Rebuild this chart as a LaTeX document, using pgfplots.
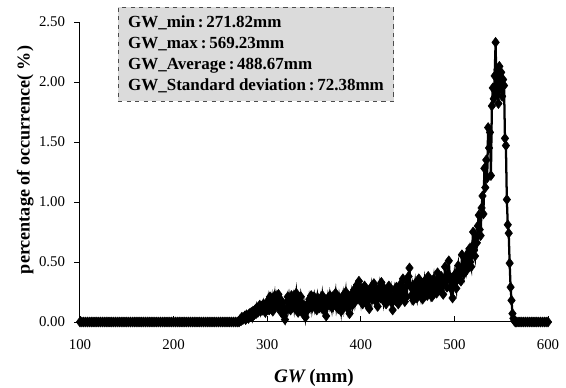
\documentclass[border=0pt]{standalone}
\usepackage{fontspec}
\setmainfont{Liberation Serif}
\usepackage{pgfplots}
\usepackage{pgfplotstable}
\pgfplotsset{compat=1.18}
\pgfplotstableread{
x y
100 0
102 0
104 0
106 0
108 0
110 0
112 0
114 0
116 0
118 0
120 0
122 0
124 0
126 0
128 0
130 0
132 0
134 0
136 0
138 0
140 0
142 0
144 0
146 0
148 0
150 0
152 0
154 0
156 0
158 0
160 0
162 0
164 0
166 0
168 0
170 0
172 0
174 0
176 0
178 0
180 0
182 0
184 0
186 0
188 0
190 0
192 0
194 0
196 0
198 0
200 0
202 0
204 0
206 0
208 0
210 0
212 0
214 0
216 0
218 0
220 0
222 0
224 0
226 0
228 0
230 0
232 0
234 0
236 0
238 0
240 0
242 0
244 0
246 0
248 0
250 0
252 0
254 0
256 0
258 0
260 0
262 0
264 0
266 0
268 0
270 0.00
271 0.02
272 0.01
273 0.04
274 0.02
275 0.03
276 0.05
277 0.02
278 0.06
279 0.04
280 0.03
281 0.07
282 0.05
283 0.08
284 0.04
285 0.09
286 0.06
287 0.10
288 0.07
289 0.12
290 0.08
291 0.11
292 0.14
293 0.09
294 0.13
295 0.10
296 0.15
297 0.11
298 0.08
299 0.14
300 0.12
301 0.18
302 0.10
303 0.21
304 0.14
305 0.19
306 0.09
307 0.17
308 0.22
309 0.13
310 0.20
311 0.15
312 0.23
313 0.11
314 0.19
315 0.08
316 0.16
317 0.12
318 0.05
319 0.02
320 0.09
321 0.17
322 0.21
323 0.13
324 0.19
325 0.10
326 0.22
327 0.15
328 0.20
329 0.12
330 0.18
331 0.24
332 0.14
333 0.08
334 0.19
335 0.13
336 0.21
337 0.16
338 0.10
339 0.06
340 0.12
341 0.04
342 0.09
343 0.15
344 0.11
345 0.19
346 0.14
347 0.22
348 0.12
349 0.17
350 0.21
351 0.13
352 0.18
353 0.10
354 0.20
355 0.15
356 0.12
357 0.19
358 0.14
359 0.22
360 0.16
361 0.09
362 0.18
363 0.05
364 0.13
365 0.20
366 0.15
367 0.22
368 0.17
369 0.12
370 0.21
371 0.14
372 0.19
373 0.24
374 0.13
375 0.18
376 0.11
377 0.20
378 0.15
379 0.09
380 0.17
381 0.22
382 0.13
383 0.19
384 0.25
385 0.16
386 0.11
387 0.21
388 0.07
389 0.18
390 0.23
391 0.14
392 0.20
393 0.27
394 0.17
395 0.22
396 0.31
397 0.19
398 0.34
399 0.24
400 0.18
401 0.28
402 0.15
403 0.23
404 0.30
405 0.20
406 0.26
407 0.14
408 0.21
409 0.11
410 0.24
411 0.29
412 0.19
413 0.25
414 0.32
415 0.22
416 0.17
417 0.27
418 0.13
419 0.23
420 0.29
421 0.20
422 0.33
423 0.24
424 0.18
425 0.28
426 0.21
427 0.15
428 0.26
429 0.19
430 0.30
431 0.23
432 0.27
433 0.16
434 0.10
435 0.21
436 0.26
437 0.18
438 0.29
439 0.22
440 0.15
441 0.25
442 0.31
443 0.20
444 0.27
445 0.36
446 0.24
447 0.17
448 0.29
449 0.21
450 0.33
451 0.38
452 0.45
453 0.30
454 0.22
455 0.28
456 0.18
457 0.26
458 0.32
459 0.24
460 0.20
461 0.29
462 0.36
463 0.27
464 0.22
465 0.31
466 0.19
467 0.28
468 0.34
469 0.25
470 0.30
471 0.22
472 0.38
473 0.29
474 0.24
475 0.33
476 0.21
477 0.30
478 0.36
479 0.27
480 0.32
481 0.24
482 0.41
483 0.30
484 0.35
485 0.26
486 0.38
487 0.31
488 0.23
489 0.34
490 0.46
491 0.35
492 0.29
493 0.40
494 0.51
495 0.38
496 0.28
497 0.33
498 0.20
499 0.31
500 0.39
501 0.33
502 0.28
503 0.42
504 0.47
505 0.36
506 0.44
507 0.34
508 0.56
509 0.45
510 0.40
511 0.50
512 0.54
513 0.43
514 0.47
515 0.58
516 0.61
517 0.50
518 0.46
519 0.63
520 0.75
521 0.60
522 0.55
523 0.70
524 0.66
525 0.80
526 0.89
527 0.77
528 0.72
529 0.95
530 1.05
531 0.90
532 1.28
533 1.12
534 1.35
535 1.20
536 1.62
537 1.45
538 1.58
539 1.22
540 1.80
541 1.95
542 1.86
543 2.05
544 2.33
545 1.90
546 2.10
547 1.82
548 2.13
549 1.95
550 2.08
551 1.88
552 2.02
553 1.97
554 1.53
555 1.47
556 1.02
557 0.81
558 0.74
559 0.49
560 0.29
561 0.18
562 0.07
563 0.03
564 0.01
565 0.00
566 0
568 0
570 0
572 0
574 0
576 0
578 0
580 0
582 0
584 0
586 0
588 0
590 0
592 0
594 0
596 0
598 0
600 0
}\gwdata
\begin{document}
\begin{tikzpicture}
\begin{axis}[
  scale only axis,
  width=330.7pt, height=212pt,
  xmin=100, xmax=600, ymin=0, ymax=2.5,
  axis lines*=left,
  axis line style={black, line width=0.7pt},
  xtick={100,200,300,400,500,600},
  ytick={0,0.5,1,1.5,2,2.5},
  xtick align=inside, ytick align=outside,
  major tick length=4pt,
  tick style={black, line width=0.6pt},
  /pgf/number format/assume math mode=true,
  ticklabel style={font=\fontsize{10.5}{12}\selectfont},
  y tick label style={/pgf/number format/.cd, fixed, fixed zerofill, precision=2, /tikz/.cd, xshift=-3pt},
  x tick label style={yshift=-9pt},
  xlabel={\textbf{\textit{GW}\,(mm)}},
  ylabel={\textbf{percentage of occurrence( \%)}},
  xlabel style={font=\fontsize{13.5}{15}\selectfont, yshift=-7pt},
  ylabel style={font=\fontsize{12.8}{15}\selectfont, at={(ticklabel cs:0.54)}, yshift=-3pt},
  clip=false,
]
\addplot[black, line width=1.6pt, mark=diamond*, mark size=3.5pt, mark options={fill=black, line width=0.4pt}] table[x=x, y=y] {\gwdata};
\node[anchor=north west, draw=black!70, dashed, line width=0.5pt, fill=gray!28,
      inner xsep=7pt, inner ysep=6pt, align=left,
      font=\bfseries\fontsize{12}{14.8}\selectfont]
  at (rel axis cs:0.081,1.05)
  {GW\_min\,:\,271.82mm\\GW\_max\,:\,569.23mm\\GW\_Average\,:\,488.67mm\\GW\_Standard deviation\,:\,72.38mm};
\coordinate (ll) at (rel axis cs:0,0);
\coordinate (ur) at (rel axis cs:1,1);
\end{axis}
\pgfresetboundingbox
\path ([xshift=-56.5pt,yshift=-46.6pt]ll) rectangle ([xshift=12.7pt,yshift=15.5pt]ur);
\end{tikzpicture}
\end{document}
